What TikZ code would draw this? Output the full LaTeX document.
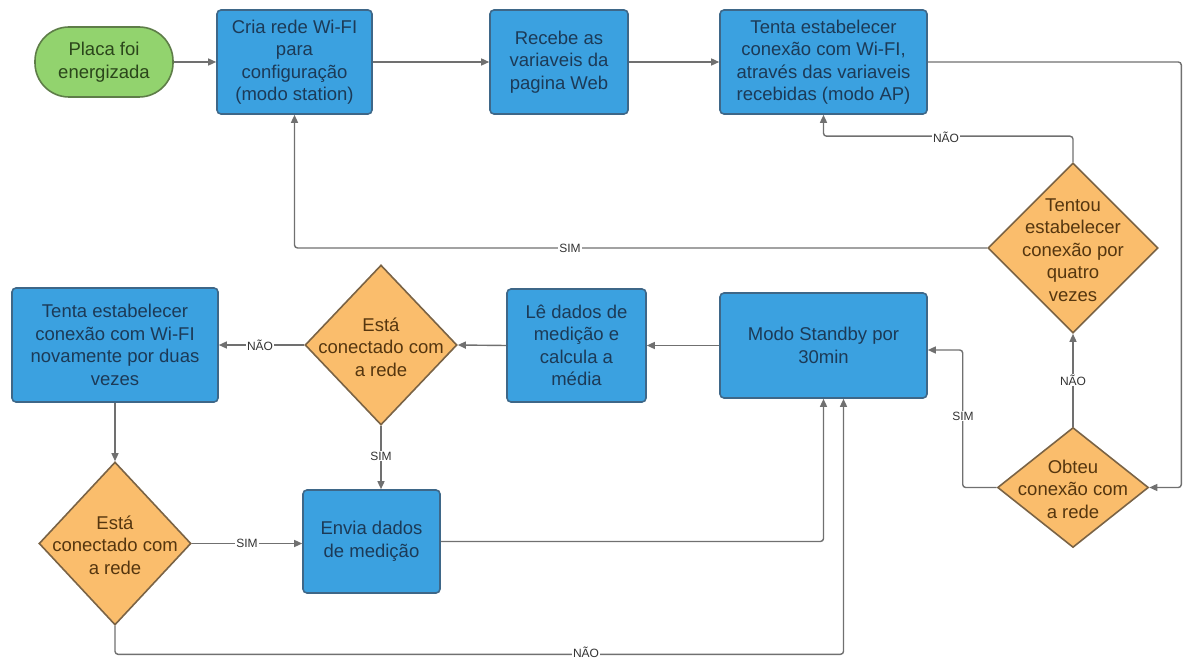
\documentclass[tikz,border=0pt]{standalone}
\usepackage{fontspec}
\setmainfont{Liberation Sans}
\usetikzlibrary{shapes.geometric,arrows.meta}
\definecolor{bluefill}{HTML}{3BA1E0}
\definecolor{blueedge}{HTML}{3E6788}
\definecolor{bluetext}{HTML}{1C3A57}
\definecolor{orfill}{HTML}{FABD6C}
\definecolor{oredge}{HTML}{7A6345}
\definecolor{ortext}{HTML}{55360F}
\definecolor{grfill}{HTML}{92D36E}
\definecolor{gredge}{HTML}{5E7D48}
\definecolor{grtext}{HTML}{2B461B}
\definecolor{linec}{HTML}{707070}
\definecolor{labc}{HTML}{333333}
\tikzset{
  box/.style={draw=blueedge, fill=bluefill, line width=1.6pt, rounded corners=4pt,
    inner sep=0pt, text=bluetext, align=center, font=\fontsize{18.5}{22.5}\selectfont},
  start/.style={draw=gredge, fill=grfill, line width=1.6pt, rounded corners=34pt,
    inner sep=0pt, text=grtext, align=center, font=\fontsize{18.5}{22.5}\selectfont},
  dia/.style={diamond, draw=oredge, fill=orfill, line width=1.6pt, inner sep=0pt},
  diatext/.style={text=ortext, align=center, inner sep=0pt, font=\fontsize{18.5}{22.5}\selectfont},
  flow/.style={draw=linec, line width=1.4pt, rounded corners=3pt,
    -{Triangle[length=8pt,width=7pt]}},
  lab/.style={fill=white, inner sep=1pt, text=labc, font=\fontsize{12}{13}\selectfont},
}
\begin{document}
\begin{tikzpicture}[x=1pt,y=-1pt]
\useasboundingbox (0,0) rectangle (1183,660);
% nodes
\node[start, minimum width=138pt, minimum height=70pt] (placa) at (104,62) {Placa foi\\energizada};
\node[box, minimum width=155pt, minimum height=104pt] (cria) at (294.5,62) {Cria rede Wi-FI\\para\\configuração\\(modo station)};
\node[box, minimum width=138pt, minimum height=104pt] (recebe) at (559,62) {Recebe as\\variaveis da\\pagina Web};
\node[box, minimum width=207pt, minimum height=104pt] (tentaap) at (823.5,62) {Tenta estabelecer\\conexão com Wi-FI,\\através das variaveis\\recebidas (modo AP)};
\node[dia, minimum width=170pt, minimum height=170pt] (tentou) at (1073,248) {};
\node[diatext] (tentout) at (1073,250) {Tentou\\estabelecer\\conexão por\\quatro\\vezes};
\node[dia, minimum width=151pt, minimum height=120pt] (obteu) at (1073,487.5) {};
\node[diatext] (obteut) at (1073,489) {Obteu\\conexão com\\a rede};
\node[box, minimum width=207pt, minimum height=105pt] (standby) at (823.5,345.5) {Modo Standby por\\30min};
\node[box, minimum width=139pt, minimum height=113pt] (le) at (576.5,345.5) {Lê dados de\\medição e\\calcula a\\média};
\node[dia, minimum width=152pt, minimum height=160pt] (esta1) at (381,345) {};
\node[diatext] (esta1t) at (381,347) {Está\\conectado com\\a rede};
\node[box, minimum width=206pt, minimum height=114pt] (tenta2) at (115,345) {Tenta estabelecer\\conexão com Wi-FI\\novamente por duas\\vezes};
\node[dia, minimum width=152pt, minimum height=163pt] (esta2) at (115,543.5) {};
\node[diatext] (esta2t) at (115,545) {Está\\conectado com\\a rede};
\node[box, minimum width=137pt, minimum height=103pt] (envia) at (371.5,541.5) {Envia dados\\de medição};
% connectors
\draw[flow] (placa.east) -- (cria.west);
\draw[flow] (cria.east) -- (recebe.west);
\draw[flow] (recebe.east) -- (tentaap.west);
\draw[flow] (tentaap.east) -- ++(253.5,0) |- (obteu.east);
\draw[flow] (obteu.north) -- (tentou.south);
\draw[flow] (tentou.north) -- ++(0,-26) -| (tentaap.south);
\draw[flow] (tentou.west) -| (cria.south);
\draw[flow] (obteu.west) -- ++(-34,0) |- ([yshift=-4.5pt]standby.east);
\draw[flow] (standby.west) -- (le.east);
\draw[flow] (le.west) -- (esta1.east);
\draw[flow] (esta1.west) -- (tenta2.east);
\draw[flow] (tenta2.south) -- (esta2.north);
\draw[flow] (esta1.south) -- (esta1.south |- envia.north);
\draw[flow] (esta2.east) -- (esta2.east -| envia.west);
\draw[flow] (envia.east) -| (standby.south);
\draw[flow] (esta2.south) -- ++(0,28.5) -| ([xshift=20pt]standby.south);
% labels
\node[lab] (l1) at (946,137) {NÃO};
\node[lab] (l2) at (570,248) {SIM};
\node[lab] (l3) at (1073,380) {NÃO};
\node[lab] (l4) at (963,416) {SIM};
\node[lab] (l5) at (260,345) {NÃO};
\node[lab] (l6) at (381,456) {SIM};
\node[lab] (l7) at (247,543) {SIM};
\node[lab] (l8) at (586,652) {NÃO};
\end{tikzpicture}
\end{document}
